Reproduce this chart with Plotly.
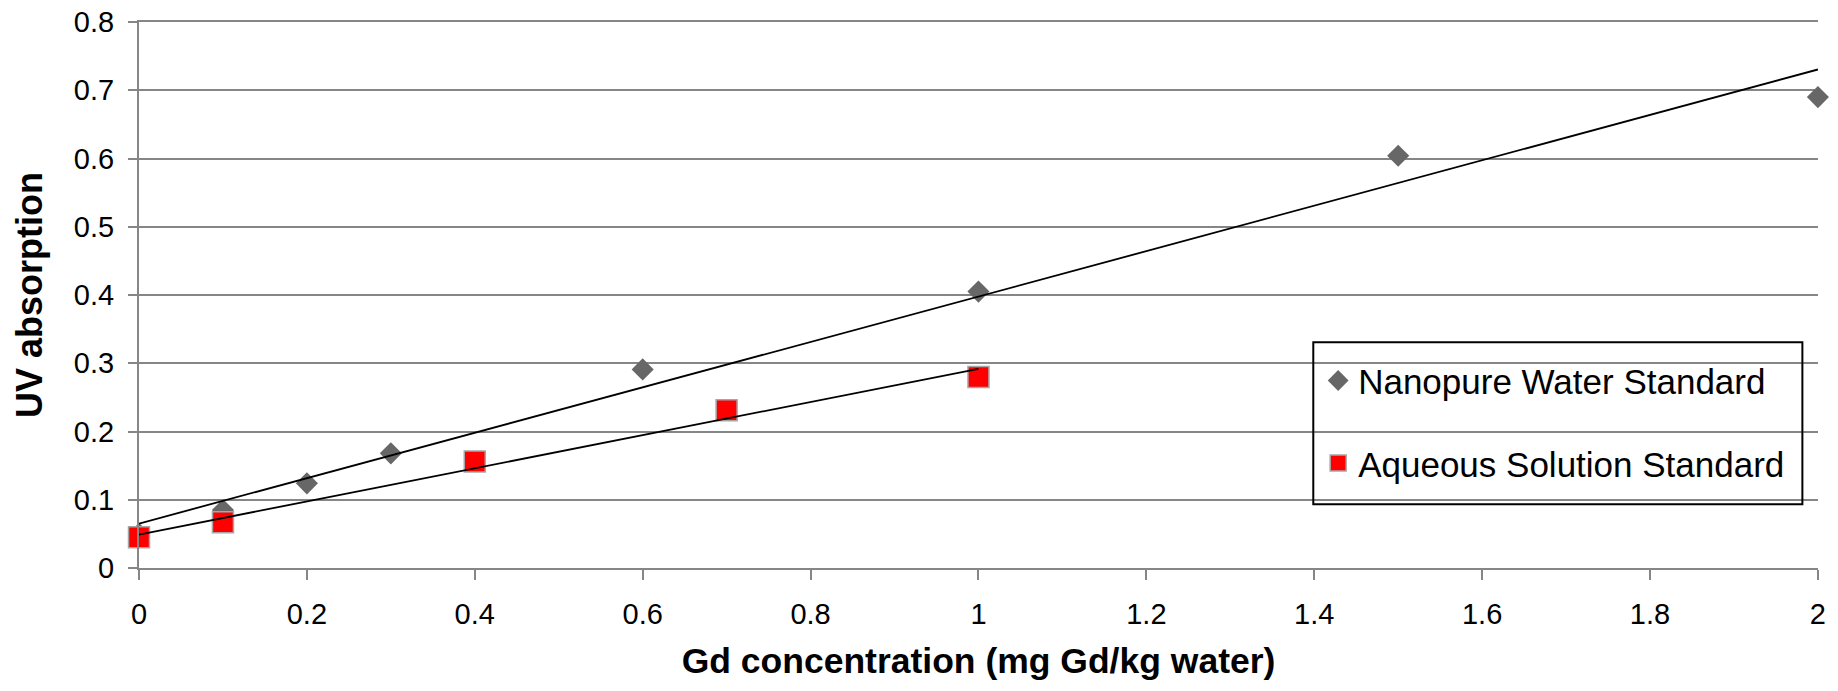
import numpy as np
import plotly.graph_objects as go

# Data
nano_x = [0.0, 0.1, 0.2, 0.3, 0.6, 1.0, 1.5, 2.0]
nano_y = [0.050, 0.085, 0.124, 0.168, 0.291, 0.405, 0.604, 0.690]
aq_x = [0.0, 0.1, 0.4, 0.7, 1.0]
aq_y = [0.045, 0.067, 0.156, 0.231, 0.280]

x_ticks = [0, 0.2, 0.4, 0.6, 0.8, 1.0, 1.2, 1.4, 1.6, 1.8, 2.0]
x_tick_text = ["0", "0.2", "0.4", "0.6", "0.8", "1", "1.2", "1.4", "1.6", "1.8", "2"]
y_ticks = [0, 0.1, 0.2, 0.3, 0.4, 0.5, 0.6, 0.7, 0.8]
y_tick_text = ["0", "0.1", "0.2", "0.3", "0.4", "0.5", "0.6", "0.7", "0.8"]

FONT = "Arial, 'Liberation Sans', sans-serif"
GRID = "#868686"

# linear trendlines (least squares) over each series' data range
nano_fit = np.polyfit(nano_x, nano_y, 1)
aq_fit = np.polyfit(aq_x, aq_y, 1)
nano_tx = [min(nano_x), max(nano_x)]
aq_tx = [min(aq_x), max(aq_x)]

fig = go.Figure()
fig.add_trace(go.Scatter(
    x=nano_x, y=nano_y, mode="markers", name="Nanopure Water Standard",
    legendgroup="a",
    marker=dict(symbol="diamond", size=17, color="#676767", line=dict(width=0)),
    cliponaxis=False,
))
fig.add_trace(go.Scatter(
    x=aq_x, y=aq_y, mode="markers", name="Aqueous Solution Standard",
    legendgroup="b",
    marker=dict(symbol="square", size=21, color="#ff0000", line=dict(width=1.5, color="#a6a6a6")),
    cliponaxis=False,
))
fig.add_trace(go.Scatter(
    x=nano_tx, y=list(np.polyval(nano_fit, nano_tx)), mode="lines", showlegend=False,
    line=dict(color="black", width=1.8), hoverinfo="skip", cliponaxis=False,
))
fig.add_trace(go.Scatter(
    x=aq_tx, y=list(np.polyval(aq_fit, aq_tx)), mode="lines", showlegend=False,
    line=dict(color="black", width=1.8), hoverinfo="skip", cliponaxis=False,
))

# legend frame (transparent box, gridlines show through as in the reference)
fig.add_shape(type="rect", xref="paper", yref="paper",
              x0=0.6994, x1=0.9907, y0=0.1166, y1=0.4135,
              line=dict(color="black", width=2), fillcolor="rgba(0,0,0,0)", layer="above")

fig.update_layout(
    width=1838, height=691,
    margin=dict(l=139, r=20, t=22, b=123, autoexpand=False),
    paper_bgcolor="white", plot_bgcolor="white",
    font=dict(family=FONT, color="black"),
    legend=dict(
        x=0.7023, y=0.3970, xanchor="left", yanchor="top",
        bgcolor="rgba(0,0,0,0)", borderwidth=0,
        font=dict(size=35, family=FONT, color="black"),
        tracegroupgap=34, traceorder="grouped",
    ),
    xaxis=dict(
        range=[0, 2.0001], tickvals=x_ticks, ticktext=x_tick_text,
        showgrid=False, zeroline=False, automargin=False,
        showline=True, mirror=True, linecolor=GRID, linewidth=2,
        ticks="outside", ticklen=10, tickwidth=2, tickcolor=GRID,
        tickfont=dict(size=29, family=FONT, color="black"),
        ticklabelstandoff=9, ticklabeloverflow="allow",
        title=dict(text="<b>Gd concentration (mg Gd/kg water)</b>",
                   font=dict(size=35.5, family=FONT, color="black"), standoff=19),
    ),
    yaxis=dict(
        range=[0, 0.80002], tickvals=y_ticks, ticktext=y_tick_text,
        showgrid=True, gridcolor=GRID, gridwidth=2, zeroline=False, automargin=False,
        showline=True, linecolor=GRID, linewidth=2,
        ticks="outside", ticklen=9, tickwidth=2, tickcolor=GRID,
        tickfont=dict(size=29, family=FONT, color="black"),
        ticklabelstandoff=8, ticklabeloverflow="allow",
        title=dict(text="<b>UV absorption</b>",
                   font=dict(size=36, family=FONT, color="black"), standoff=20),
    ),
)

# remove the default 8px page margin so the 1838x691 figure fills the window
fig.write_html("out.html", config={"displayModeBar": False},
               post_script="document.body.style.margin='0px';")
